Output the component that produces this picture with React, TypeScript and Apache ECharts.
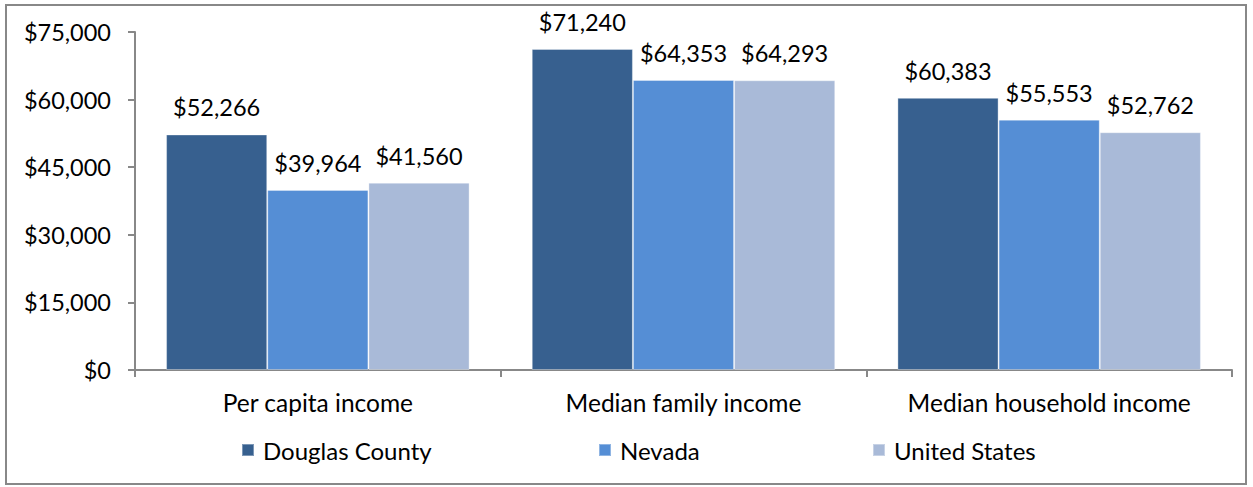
import React, { useEffect, useRef } from "react";
import * as echarts from "echarts";

const categories = ["Per capita income", "Median family income", "Median household income"];
const seriesNames = ["Douglas County", "Nevada", "United States"];
const douglas = [52266, 71240, 60383];
const nevada = [39964, 64353, 55553];
const unitedStates = [41560, 64293, 52762];
const colors = ["#37608F", "#558ED5", "#A9BAD8"];
const yMin = 0;
const yMax = 75000;
const yInterval = 15000;

const FONT = "Lato, 'Open Sans', sans-serif";
const legendLefts = [236, 593, 867];

function money(v: number): string {
  return "$" + v.toLocaleString("en-US");
}

export default function App() {
  const ref = useRef<HTMLDivElement>(null);
  useEffect(() => {
    document.body.style.margin = "0";
    const chart = echarts.init(ref.current!, null, { renderer: "svg" });
    const values = [douglas, nevada, unitedStates];
    chart.setOption({
      animation: false,
      backgroundColor: "#ffffff",
      textStyle: { fontFamily: FONT, color: "#000" },
      graphic: [
        {
          type: "rect",
          shape: { x: 6, y: 5, width: 1240, height: 479 },
          style: { fill: "none", stroke: "#888888", lineWidth: 2 },
          silent: true,
        },
      ],
      grid: { left: 135, right: 21, top: 32, bottom: 117, containLabel: false },
      legend: seriesNames.map((name, i) => ({
        data: [name],
        left: legendLefts[i],
        top: 433,
        itemWidth: 12,
        itemHeight: 12,
        icon: "rect",
        textStyle: { fontFamily: FONT, fontSize: 24, color: "#000", padding: [0, 0, 0, 4] },
      })),
      xAxis: {
        type: "category",
        data: categories,
        axisLine: { lineStyle: { color: "#888888", width: 2 } },
        axisTick: { show: true, alignWithLabel: false, length: 7, lineStyle: { color: "#888888", width: 2 } },
        axisLabel: {
          fontFamily: FONT,
          fontSize: 24.5,
          color: "#000",
          margin: 20,
          interval: 0,
          hideOverlap: false,
        },
      },
      yAxis: {
        type: "value",
        min: yMin,
        max: yMax,
        interval: yInterval,
        splitLine: { show: false },
        axisLine: { show: true, lineStyle: { color: "#888888", width: 2 } },
        axisTick: { show: true, length: 7, lineStyle: { color: "#888888", width: 2 } },
        axisLabel: {
          fontFamily: FONT,
          fontSize: 23.5,
          color: "#000",
          margin: 24,
          formatter: (v: number) => money(v),
        },
      },
      series: seriesNames.map((name, i) => ({
        name,
        type: "bar",
        data: values[i],
        barGap: "0%",
        barCategoryGap: "17%",
        itemStyle: { color: colors[i], borderColor: "rgba(255,255,255,0.35)", borderWidth: 1 },
        label: {
          show: true,
          position: "top",
          distance: 15,
          fontFamily: FONT,
          fontSize: 23.5,
          color: "#000",
          formatter: (p: any) => money(p.value),
        },
      })),
    });
    return () => chart.dispose();
  }, []);
  return <div ref={ref} style={{ width: 1253, height: 487 }} />;
}
